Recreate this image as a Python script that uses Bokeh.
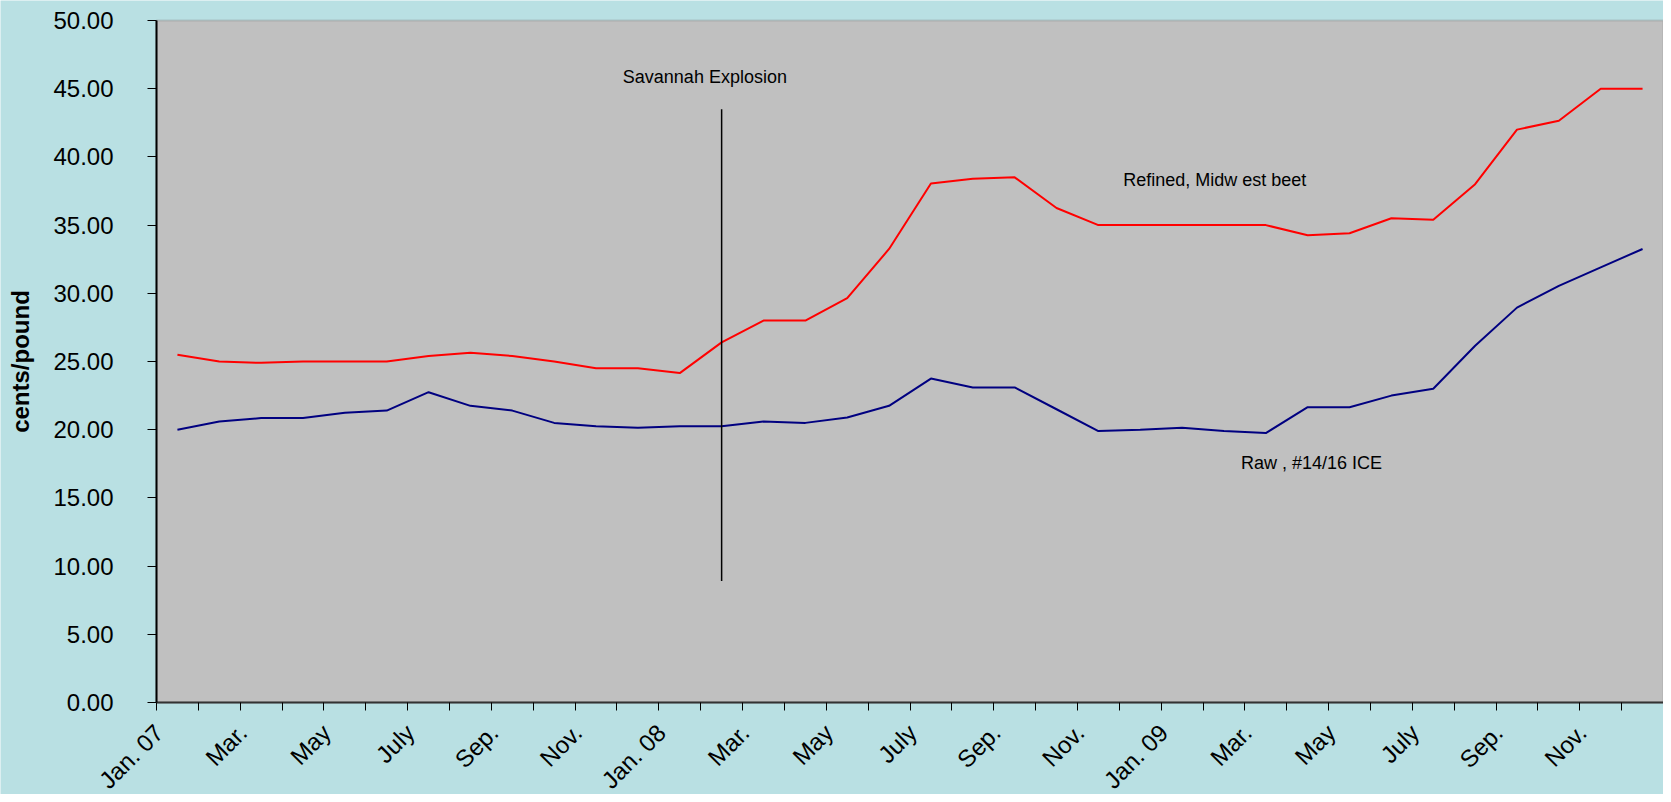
import math
from bokeh.plotting import figure
from bokeh.models import FixedTicker, Label, Range1d, NumeralTickFormatter, BoxAnnotation
from bokeh.embed import file_html
from bokeh.resources import INLINE

# ---- data ----
months = ["Jan. 07", "Feb.", "Mar.", "Apr.", "May", "June", "July", "Aug.", "Sep.", "Oct.", "Nov.", "Dec.",
          "Jan. 08", "Feb.", "Mar.", "Apr.", "May", "June", "July", "Aug.", "Sep.", "Oct.", "Nov.", "Dec.",
          "Jan. 09", "Feb.", "Mar.", "Apr.", "May", "June", "July", "Aug.", "Sep.", "Oct.", "Nov.", "Dec."]

refined_midwest_beet = [25.5, 25.0, 24.9, 25.0, 25.0, 25.0, 25.4, 25.65, 25.4, 25.0, 24.5, 24.5,
                        24.15, 26.4, 28.0, 28.0, 29.65, 33.25, 38.05, 38.4, 38.5, 36.25, 35.0, 35.0,
                        35.0, 35.0, 35.0, 34.25, 34.4, 35.5, 35.4, 38.0, 42.0, 42.65, 45.0, 45.0]

raw_14_16_ice = [20.0, 20.6, 20.85, 20.85, 21.25, 21.4, 22.75, 21.75, 21.4, 20.5, 20.25, 20.15,
                 20.25, 20.25, 20.6, 20.5, 20.9, 21.75, 23.75, 23.1, 23.1, 21.5, 19.9, 20.0,
                 20.15, 19.9, 19.75, 21.65, 21.65, 22.5, 23.0, 26.15, 28.95, 30.55, 31.9, 33.25]

y_ticks = [0, 5, 10, 15, 20, 25, 30, 35, 40, 45, 50]
y_min, y_max = 0, 50

event_label = "Savannah Explosion"
event_index = 13          # Feb. 2008
event_line_bottom = 8.9
event_line_top = 43.5

x = list(range(len(months)))

BG = "#B9E0E3"
PLOT_BG = "#C0C0C0"
FONT = "Liberation Sans"

# ---- layout (pixels): plot area inside a full-canvas frame ----
W, H = 1663, 794
AREA_LEFT, AREA_TOP, AREA_BOTTOM = 156, 20, 702
x_lo, x_hi = -0.5, len(months) - 0.5
cat_px = (W - AREA_LEFT) / (x_hi - x_lo)
unit_px = (AREA_BOTTOM - AREA_TOP) / (y_max - y_min)

p = figure(width=W, height=H, output_backend="svg", toolbar_location=None,
           x_range=Range1d(x_lo - AREA_LEFT / cat_px, x_hi),
           y_range=Range1d(y_min - (H - AREA_BOTTOM) / unit_px, y_max + AREA_TOP / unit_px),
           min_border_left=0, min_border_right=0, min_border_top=0, min_border_bottom=0)

p.background_fill_color = BG
p.border_fill_color = BG
p.outline_line_color = None
p.grid.visible = False

# grey plot area with grey top border
p.add_layout(BoxAnnotation(left=x_lo, right=None, bottom=y_min, top=y_max, fill_color=PLOT_BG,
                           fill_alpha=1.0, line_color="#808080", line_width=2, level="underlay"))

p.line(x, refined_midwest_beet, line_color="#FF0000", line_width=2)
p.line(x, raw_14_16_ice, line_color="#000080", line_width=2)

p.segment(x0=[event_index], y0=[event_line_bottom], x1=[event_index], y1=[event_line_top],
          line_color="black", line_width=1.5)

p.add_layout(Label(x=12.6, y=45.85, text=event_label, text_align="center",
                   text_baseline="middle", text_font=FONT, text_font_size="18px", text_color="black"))
p.add_layout(Label(x=24.78, y=38.34, text="Refined, Midw est beet", text_align="center",
                   text_baseline="middle", text_font=FONT, text_font_size="18px", text_color="black"))
p.add_layout(Label(x=27.09, y=17.54, text="Raw , #14/16 ICE", text_align="center",
                   text_baseline="middle", text_font=FONT, text_font_size="18px", text_color="black"))

# y axis, pinned to the plot-area edge
ya = p.yaxis[0]
ya.fixed_location = x_lo
ya.bounds = (y_min, y_max)
ya.ticker = FixedTicker(ticks=y_ticks, minor_ticks=[])
ya.formatter = NumeralTickFormatter(format="0.00")
ya.axis_label = "cents/pound"
ya.axis_label_text_font = FONT
ya.axis_label_text_font_style = "bold"
ya.axis_label_text_font_size = "24px"
ya.axis_label_text_color = "black"
ya.axis_label_standoff = 16
ya.major_label_text_font = FONT
ya.major_label_text_font_size = "24px"
ya.major_label_text_color = "black"
ya.major_label_standoff = 34
ya.major_tick_in = 0
ya.major_tick_out = 9
ya.major_tick_line_color = "black"
ya.axis_line_color = "black"
ya.axis_line_width = 2

# x axis, pinned to y = 0: tick marks on month boundaries, names every second month
xa = p.xaxis[0]
xa.fixed_location = y_min
xa.bounds = (x_lo, x_hi)
label_idx = list(range(0, len(months), 2))
label_pos = [i - 0.44 for i in label_idx]
xa.ticker = FixedTicker(ticks=label_pos, minor_ticks=[i - 0.5 for i in range(len(months) + 1)])
xa.major_label_overrides = {pos: months[i] for pos, i in zip(label_pos, label_idx)}
xa.major_label_orientation = math.pi / 4
xa.major_label_text_font = FONT
xa.major_label_text_font_size = "24px"
xa.major_label_text_color = "black"
xa.major_label_standoff = 18
xa.major_tick_in = 0
xa.major_tick_out = 0
xa.minor_tick_in = 0
xa.minor_tick_out = 8
xa.minor_tick_line_color = "black"
xa.minor_tick_line_width = 1
xa.axis_line_color = "#333333"
xa.axis_line_width = 2

open("out.html", "w").write(file_html(p, INLINE))
